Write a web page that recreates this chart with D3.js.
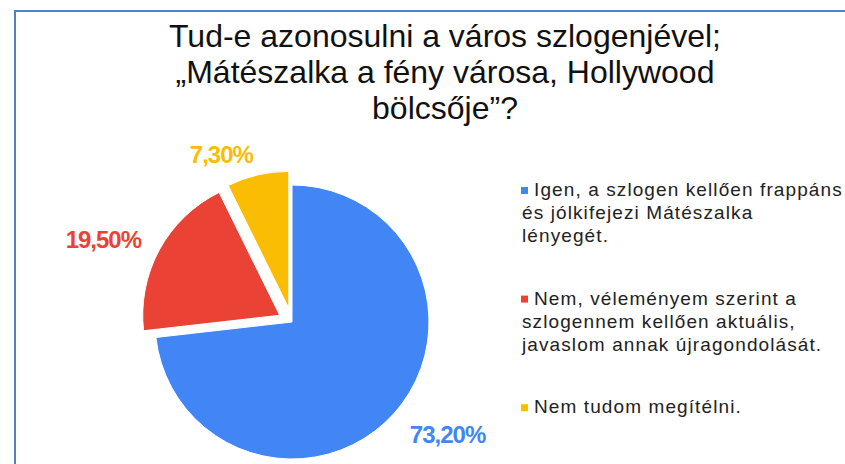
<!DOCTYPE html>
<html>
<head>
<meta charset="utf-8">
<script src="https://cdn.jsdelivr.net/npm/d3@7/dist/d3.min.js"></script>
<style>
  html, body { margin: 0; padding: 0; background: #fff; }
  svg { display: block; font-family: "Liberation Sans", Arial, sans-serif; }
</style>
</head>
<body>
<div id="chart"></div>
<script>
const titleLines = [
    'Tud-e azonosulni a város szlogenjével;',
    '„Mátészalka a fény városa, Hollywood',
    'bölcsője”?'
];

const categories = [
    'Igen, a szlogen kellően frappáns\nés jólkifejezi Mátészalka\nlényegét.',
    'Nem, véleményem szerint a\nszlogennem kellően aktuális,\njavaslom annak újragondolását.',
    'Nem tudom megítélni.'
];

const values = [73.2, 19.5, 7.3];
const colors = ['#4285f4', '#ea4335', '#fbbc04'];

const width = 845;
const height = 464;

const svg = d3.select('#chart')
    .append('svg')
    .attr('width', width)
    .attr('height', height);

// frame
svg.append('rect')
    .attr('x', 15)
    .attr('y', 11)
    .attr('width', 900)
    .attr('height', 500)
    .attr('fill', 'none')
    .attr('stroke', '#4f81c7')
    .attr('stroke-width', 2);

// title
svg.append('g')
    .selectAll('text')
    .data(titleLines)
    .join('text')
    .attr('x', 445)
    .attr('y', (d, i) => 47 + i * 36)
    .attr('text-anchor', 'middle')
    .attr('font-size', '32px')
    .attr('fill', '#111')
    .text(d => d);

// pie
const cx = 292, cy = 322, radius = 137, explode = 14, labelR = 158;
const data = categories.map((c, i) => ({ name: c, value: values[i], color: colors[i] }));

const pie = d3.pie().sort(null).value(d => d.value);
const arc = d3.arc().innerRadius(0).outerRadius(radius);
const arcs = pie(data);

const g = svg.append('g').attr('transform', `translate(${cx},${cy})`);

function offset(d, i) {
    const a = (d.startAngle + d.endAngle) / 2;
    const o = i === 0 ? 0 : explode;
    return [Math.sin(a) * o, -Math.cos(a) * o];
}

g.selectAll('path')
    .data(arcs)
    .join('path')
    .attr('transform', (d, i) => `translate(${offset(d, i)})`)
    .attr('d', arc)
    .attr('fill', d => d.data.color)
    .attr('stroke', '#fff')
    .attr('stroke-width', 1);

g.selectAll('text.pct')
    .data(arcs)
    .join('text')
    .attr('class', 'pct')
    .attr('x', (d, i) => {
        const a = (d.startAngle + d.endAngle) / 2;
        return offset(d, i)[0] + Math.sin(a) * labelR;
    })
    .attr('y', (d, i) => {
        const a = (d.startAngle + d.endAngle) / 2;
        // push lower labels down a little, as in the original
        return offset(d, i)[1] - Math.cos(a) * labelR + Math.max(0, -Math.cos(a)) * 10;
    })
    .attr('dy', '0.36em')
    .attr('text-anchor', d => Math.sin((d.startAngle + d.endAngle) / 2) >= 0 ? 'start' : 'end')
    .attr('font-size', '24px')
    .attr('font-weight', 'bold')
    .attr('letter-spacing', '-1px')
    .attr('fill', d => d.data.color)
    .text(d => d3.format('.2f')(d.data.value).replace('.', ',') + '%');

// legend
const legend = svg.append('g').attr('transform', 'translate(521,196)');
const lineH = 23.2, groupGap = 39;
let yPos = 0;
data.forEach(d => {
    const lines = d.name.split('\n');
    const item = legend.append('g').attr('transform', `translate(0,${yPos})`);
    item.append('rect')
        .attr('x', 0)
        .attr('y', -9)
        .attr('width', 7)
        .attr('height', 7)
        .attr('fill', d.color);
    item.selectAll('text')
        .data(lines)
        .join('text')
        .attr('x', (l, i) => i === 0 ? 13 : 1)
        .attr('y', (l, i) => i * lineH)
        .attr('font-size', '19px')
        .attr('letter-spacing', '1.1px')
        .attr('fill', '#222')
        .text(l => l);
    yPos += lines.length * lineH + groupGap;
});
</script>
</body>
</html>
